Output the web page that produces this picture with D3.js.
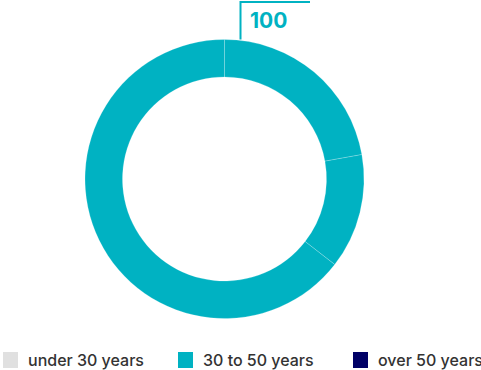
<!DOCTYPE html>
<html>
<head>
<meta charset="utf-8">
<script src="https://cdn.jsdelivr.net/npm/d3@7"></script>
<style>
  html, body { margin: 0; padding: 0; background: #fff; }
  svg { display: block; font-family: "Inter", "Noto Sans", sans-serif; }
</style>
</head>
<body>
<svg id="chart" width="481" height="370"></svg>
<script>
// Age groups shown in the legend
const categories = ["under 30 years", "30 to 50 years", "over 50 years"];
const categoryColors = ["#e0e0e0", "#00b2c2", "#000066"];

// Ring segments (all in the 30 to 50 years group), in percent
const segmentCategory = ["30 to 50 years", "30 to 50 years", "30 to 50 years"];
const segmentValues = [22.2, 13.3, 64.5];

// Total share printed above the ring
const totalLabel = d3.sum(segmentValues);

const svg = d3.select("#chart");
const cx = 224.5, cy = 179, outerR = 139.5, innerR = 102;

const color = d3.scaleOrdinal().domain(categories).range(categoryColors);

const pie = d3.pie().sort(null).value(d => d.value);
const arc = d3.arc().innerRadius(innerR).outerRadius(outerR);

const segments = segmentValues.map((v, i) => ({ value: v, cat: segmentCategory[i] }));

const g = svg.append("g").attr("transform", `translate(${cx},${cy})`);
g.selectAll("path")
  .data(pie(segments))
  .join("path")
  .attr("d", arc)
  .attr("fill", d => color(d.data.cat))
  .attr("stroke", "#ffffff")
  .attr("stroke-width", 0.5)
  .attr("stroke-opacity", 0.4);

// Leader line and value label
const lineX = cx + 16;
svg.append("path")
  .attr("d", `M${lineX},${cy - outerR} V2 H310`)
  .attr("fill", "none")
  .attr("stroke", color("30 to 50 years"))
  .attr("stroke-width", 2);

svg.append("text")
  .attr("x", 250)
  .attr("y", 28)
  .attr("fill", color("30 to 50 years"))
  .attr("font-size", 21)
  .attr("font-weight", 700)
  .text(d3.format("d")(totalLabel));

// Legend
const legendX = [3, 178, 353];
const legend = svg.append("g");
categories.forEach((c, i) => {
  const item = legend.append("g").attr("transform", `translate(${legendX[i]},352)`);
  item.append("rect")
    .attr("width", 15).attr("height", 16)
    .attr("fill", color(c));
  item.append("text")
    .attr("x", 25).attr("y", 14)
    .attr("font-size", 16)
    .attr("font-weight", 500)
    .attr("fill", "#333333")
    .text(c);
});
</script>
</body>
</html>
